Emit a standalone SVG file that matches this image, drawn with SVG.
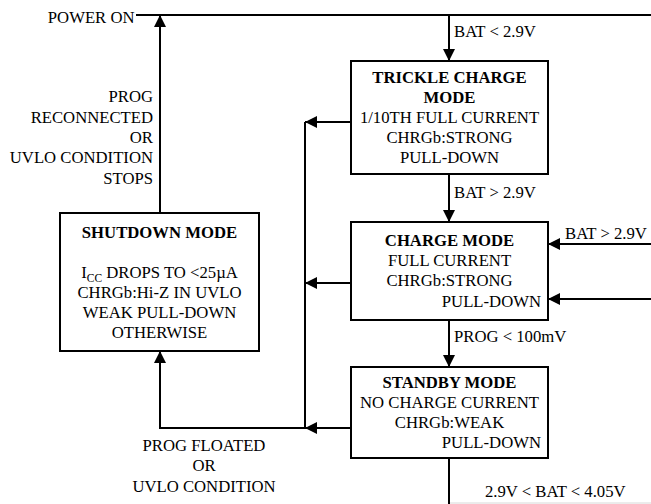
<svg xmlns="http://www.w3.org/2000/svg" width="651" height="504" viewBox="0 0 651 504">
<defs>
<style>
text{font-family:"Liberation Serif","Times New Roman",serif;font-size:16.7px;fill:#000}
.b{font-weight:bold}
.m{text-anchor:middle}
.e{text-anchor:end}
.box{fill:#fff;stroke:#000;stroke-width:2}
.ln{fill:none;stroke:#000;stroke-width:2}
</style>
<marker id="ah" markerUnits="userSpaceOnUse" markerWidth="13" markerHeight="12" refX="12" refY="6" orient="auto">
<path d="M0,0 L12,6 L0,12 z" fill="#000"/>
</marker>
</defs>
<g id="connectors">
<path class="ln" d="M136,15 H651"/>
<path class="ln" d="M160,213 V15" marker-end="url(#ah)"/>
<path class="ln" d="M449,15 V61" marker-end="url(#ah)"/>
<path class="ln" d="M449,174 V222" marker-end="url(#ah)"/>
<path class="ln" d="M449,320 V367" marker-end="url(#ah)"/>
<path class="ln" d="M449,458 V504"/>
<path d="M450,503 H651" fill="none" stroke="#d8d8d8" stroke-width="1"/>
<path class="ln" d="M350,122 H305" marker-end="url(#ah)"/>
<path class="ln" d="M350,283 H305" marker-end="url(#ah)"/>
<path class="ln" d="M350,428 H305" marker-end="url(#ah)"/>
<path class="ln" d="M305,122 V428 H160 V351" marker-end="url(#ah)"/>
<path class="ln" d="M651,244 H548" marker-end="url(#ah)"/>
<path class="ln" d="M651,299 H548" marker-end="url(#ah)"/>
<text class="e" x="134.5" y="22.5">POWER ON</text>
<text class="e" x="153" y="102">PROG</text>
<text class="e" x="153" y="122.5">RECONNECTED</text>
<text class="e" x="153" y="143">OR</text>
<text class="e" x="153" y="163">UVLO CONDITION</text>
<text class="e" x="153" y="183.5">STOPS</text>
<text x="454" y="36.5">BAT &lt; 2.9V</text>
<text x="454" y="197.5">BAT &gt; 2.9V</text>
<text x="565" y="239">BAT &gt; 2.9V</text>
<text x="454" y="341.5">PROG &lt; 100mV</text>
<text x="485" y="497">2.9V &lt; BAT &lt; 4.05V</text>
<text class="m" x="204" y="450.5">PROG FLOATED</text>
<text class="m" x="204" y="471">OR</text>
<text class="m" x="204" y="491.5">UVLO CONDITION</text>
</g>
<g id="shutdown">
<rect class="box" x="60" y="213" width="199" height="138"/>
<text class="m b" x="159.5" y="237.5">SHUTDOWN MODE</text>
<text class="m" x="159.5" y="277.5">I<tspan font-size="11.5" dy="4">CC</tspan><tspan dy="-4"> DROPS TO &lt;25µA</tspan></text>
<text class="m" x="159.5" y="297.5">CHRGb:Hi-Z IN UVLO</text>
<text class="m" x="159.5" y="318">WEAK PULL-DOWN</text>
<text class="m" x="159.5" y="337.5">OTHERWISE</text>
</g>
<g id="trickle">
<rect class="box" x="351" y="61" width="197" height="113"/>
<text class="m b" x="449.5" y="83">TRICKLE CHARGE</text>
<text class="m b" x="449.5" y="103">MODE</text>
<text class="m" x="449.5" y="123">1/10TH FULL CURRENT</text>
<text class="m" x="449.5" y="143">CHRGb:STRONG</text>
<text class="m" x="449.5" y="163">PULL-DOWN</text>
</g>
<g id="charge">
<rect class="box" x="351" y="222" width="197" height="98"/>
<text class="m b" x="449.5" y="245.5">CHARGE MODE</text>
<text class="m" x="449.5" y="265.5">FULL CURRENT</text>
<text class="m" x="449.5" y="285.5">CHRGb:STRONG</text>
<text class="e" x="541" y="307">PULL-DOWN</text>
</g>
<g id="standby">
<rect class="box" x="351" y="367" width="197" height="91"/>
<text class="m b" x="449.5" y="388">STANDBY MODE</text>
<text class="m" x="449.5" y="407.5">NO CHARGE CURRENT</text>
<text class="m" x="449.5" y="427.5">CHRGb:WEAK</text>
<text class="e" x="541" y="448">PULL-DOWN</text>
</g>
</svg>
